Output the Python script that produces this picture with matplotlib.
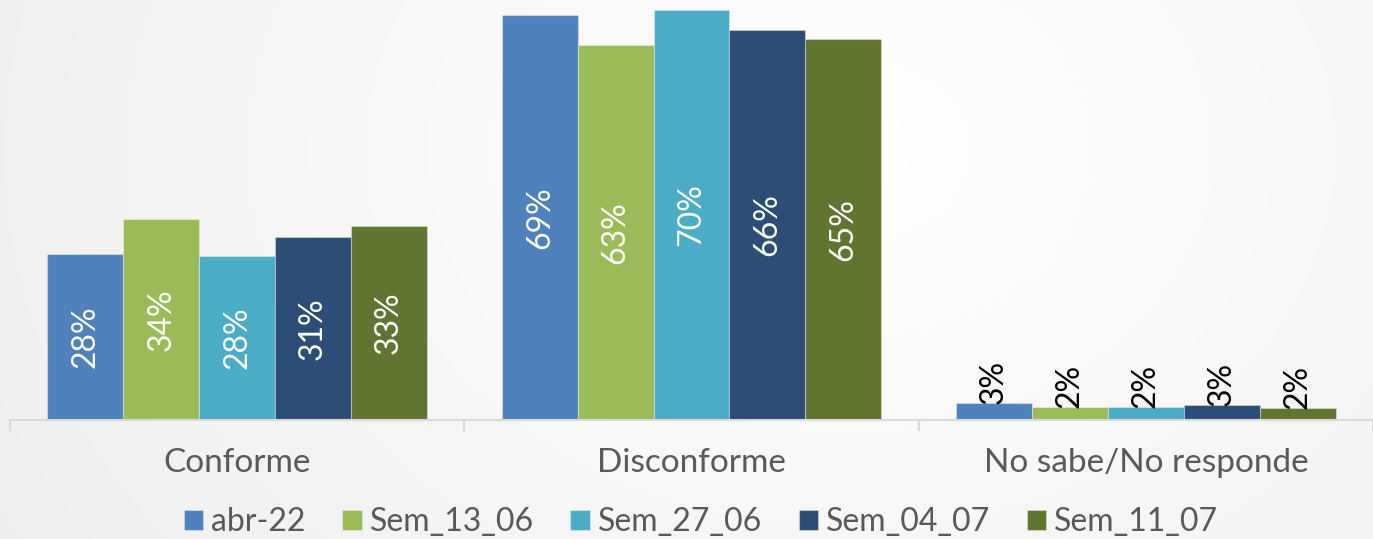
import matplotlib
matplotlib.use("Agg")
import matplotlib.pyplot as plt
import numpy as np

categories = ["Conforme", "Disconforme", "No sabe/No responde"]
series_names = ["abr-22", "Sem_13_06", "Sem_27_06", "Sem_04_07", "Sem_11_07"]
values = {
    "abr-22":    [28.3, 69.1, 2.9],
    "Sem_13_06": [34.3, 64.0, 2.2],
    "Sem_27_06": [28.0, 70.0, 2.2],
    "Sem_04_07": [31.2, 66.6, 2.6],
    "Sem_11_07": [33.1, 65.0, 2.0],
}
labels = {
    "abr-22":    ["28%", "69%", "3%"],
    "Sem_13_06": ["34%", "63%", "2%"],
    "Sem_27_06": ["28%", "70%", "2%"],
    "Sem_04_07": ["31%", "66%", "3%"],
    "Sem_11_07": ["33%", "65%", "2%"],
}
colors = ["#4F81BD", "#9BBB59", "#4BACC6", "#2C4D75", "#5F7530"]

plt.rcParams["font.family"] = ["Lato", "DejaVu Sans"]

W, H = 1373, 539
fig = plt.figure(figsize=(W / 100, H / 100), dpi=100)

# background radial gradient
bg = fig.add_axes([0, 0, 1, 1], zorder=-10)
yy, xx = np.mgrid[0:H, 0:W]
d = np.sqrt(((xx - 850) / 900.0) ** 2 + ((yy - 150) / 700.0) ** 2)
g = 1.0 - 0.07 * np.clip(d, 0, 1.2) / 1.2
bg.imshow(np.dstack([g, g, g]), aspect="auto", extent=[0, 1, 0, 1])
bg.axis("off")

ax = fig.add_axes([10 / W, 1 - 420 / H, (W - 10) / W, 420 / H])
ax.patch.set_alpha(0)

x = np.arange(len(categories))
n = len(series_names)
bw = 0.167
for i, (name, col) in enumerate(zip(series_names, colors)):
    pos = x + (i - (n - 1) / 2) * bw
    vals = values[name]
    ax.bar(pos, vals, width=bw, color=col, label=name,
           edgecolor=(1, 1, 1, 0.35), linewidth=0.8)
    for p, v, lab in zip(pos, vals, labels[name]):
        if v > 10:
            ax.text(p, v / 2, lab, rotation=90, ha="center", va="center",
                    color="white", fontsize=23)
        else:
            ax.text(p, v - 0.2, lab, rotation=90, ha="center", va="bottom",
                    color="black", fontsize=23)

ax.set_xlim(-0.5, 2.5)
ax.set_ylim(0, 71.7)
ax.set_yticks([])
for s in ["top", "right", "left"]:
    ax.spines[s].set_visible(False)
ax.spines["bottom"].set_color("#D9D9D9")
ax.spines["bottom"].set_linewidth(1.5)
ax.set_xticks([-0.5, 0.5, 1.5, 2.5], minor=False)
ax.set_xticklabels([])
ax.tick_params(axis="x", which="major", length=8, width=1.5, color="#D9D9D9")
ax.set_xticks(x, minor=True)
ax.set_xticklabels(categories, minor=True, fontsize=24, color="#595959")
ax.tick_params(axis="x", which="minor", length=0, pad=20)

fig.legend(loc="center", bbox_to_anchor=(701 / W, 1 - 522 / H), ncol=5,
           frameon=False, fontsize=23, handlelength=0.6, handleheight=0.6,
           handletextpad=0.25, columnspacing=1.15, labelcolor="#595959")

fig.savefig("out.png", dpi=100)
